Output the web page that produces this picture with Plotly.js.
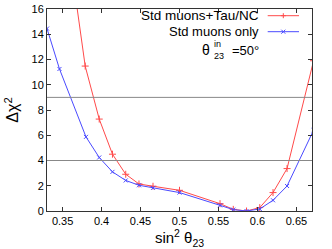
<!DOCTYPE html>
<html><head><meta charset="utf-8">
<script src="https://cdn.plot.ly/plotly-3.0.1.min.js"></script>
<style>html,body{margin:0;padding:0;background:#fff}#c{width:332px;height:249px}</style>
</head><body><div id="c"></div>
<script>
// Data
var sinRed  = [0.362, 0.379, 0.397, 0.414, 0.431, 0.448, 0.466, 0.500, 0.552, 0.569, 0.586, 0.603, 0.620, 0.638, 0.672];
var chiRed  = [19.0, 11.48, 7.28, 4.50, 2.91, 2.14, 1.96, 1.64, 0.58, 0.13, 0.00, 0.27, 1.46, 3.36, 11.9];
var sinBlue = [0.330, 0.346, 0.380, 0.397, 0.414, 0.431, 0.448, 0.466, 0.500, 0.552, 0.569, 0.586, 0.603, 0.620, 0.638, 0.672];
var chiBlue = [14.45, 11.25, 5.87, 4.24, 3.10, 2.42, 2.04, 1.83, 1.46, 0.45, 0.11, 0.00, 0.16, 0.85, 1.98, 6.4];
var levels = [4, 9];
var seriesNames = ["Std muons+Tau/NC", "Std muons only"];
var xTicks = [0.35, 0.4, 0.45, 0.5, 0.55, 0.6, 0.65];
var xTickText = ["0.35", "0.4", "0.45", "0.5", "0.55", "0.6", "0.65"];

var W = 332, H = 249, L = 47, R = 20, T = 9, B = 38;
function px(x){ return (x - L) / (W - L - R); }
function py(y){ return (H - B - y) / (H - T - B); }
var red = "#ff4a4a", blue = "#4a4aff";

var traces = [
  {x: sinRed, y: chiRed, mode: "lines+markers", name: seriesNames[0],
   line: {color: red, width: 1}, marker: {symbol: "cross-thin-open", size: 5, color: red, line: {color: red, width: 1}}},
  {x: sinBlue, y: chiBlue, mode: "lines+markers", name: seriesNames[1],
   line: {color: blue, width: 1}, marker: {symbol: "x-thin-open", size: 4, color: blue, line: {color: blue, width: 1}}}
];

var shapes = levels.map(function(v){
  return {type: "line", xref: "paper", x0: 0, x1: 1, yref: "y", y0: v, y1: v, line: {color: "#888", width: 1}};
});
// manual gnuplot-style key
var rows = [{y: 15.7, c: red, sym: "M-2.5,0H2.5M0,-2.5V2.5"}, {y: 31.7, c: blue, sym: "M-2,-2L2,2M-2,2L2,-2"}];
rows.forEach(function(r){
  shapes.push({type: "line", xref: "paper", yref: "paper", x0: px(267.7), x1: px(299), y0: py(r.y), y1: py(r.y), line: {color: r.c, width: 1}});
  shapes.push({type: "path", xref: "paper", yref: "paper", xsizemode: "pixel", ysizemode: "pixel",
    xanchor: px(283.3), yanchor: py(r.y), path: r.sym, line: {color: r.c, width: 1}});
});

var f = "Arial, Liberation Sans, sans-serif";
var annotations = [
  {xref: "paper", yref: "paper", x: px(261), y: py(15.7), text: seriesNames[0], showarrow: false, xanchor: "right", yanchor: "middle", font: {family: f, size: 13.5, color: "#000"}},
  {xref: "paper", yref: "paper", x: px(261), y: py(31.7), text: seriesNames[1], showarrow: false, xanchor: "right", yanchor: "middle", font: {family: f, size: 13, color: "#000"}},
  {xref: "paper", yref: "paper", x: px(212), y: py(50.5), text: "θ", showarrow: false, xanchor: "right", yanchor: "middle", font: {family: f, size: 14, color: "#000"}},
  {xref: "paper", yref: "paper", x: px(212), y: py(50.5), text: "in<br>23", showarrow: false, xanchor: "left", yanchor: "middle", align: "left", font: {family: f, size: 9, color: "#000"}},
  {xref: "paper", yref: "paper", x: px(261), y: py(51), text: "=50°", showarrow: false, xanchor: "right", yanchor: "middle", font: {family: f, size: 13, color: "#000"}}
];

var layout = {
  width: W, height: H, margin: {l: L, r: R, t: T, b: B, pad: 0},
  paper_bgcolor: "#fff", plot_bgcolor: "#fff", showlegend: false,
  font: {family: f, size: 11, color: "#000"},
  xaxis: {range: [0.33, 0.67], tickvals: xTicks, ticktext: xTickText, ticks: "inside", ticklen: 4, tickcolor: "#333",
    showline: true, linecolor: "#333", linewidth: 1, mirror: "ticks", showgrid: false, zeroline: false,
    tickfont: {family: f, size: 11}, title: {text: "sin<sup>2</sup> θ<sub>23</sub>", font: {family: f, size: 15}, standoff: 4}},
  yaxis: {range: [0, 16], dtick: 2, ticks: "inside", ticklen: 4, tickcolor: "#333",
    showline: true, linecolor: "#333", linewidth: 1, mirror: "ticks", showgrid: false, zeroline: false,
    tickfont: {family: f, size: 11}, title: {text: "Δχ<sup>2</sup>", font: {family: f, size: 16}, standoff: 8}},
  shapes: shapes, annotations: annotations
};
Plotly.newPlot("c", traces, layout, {staticPlot: true, displayModeBar: false});
</script></body></html>
